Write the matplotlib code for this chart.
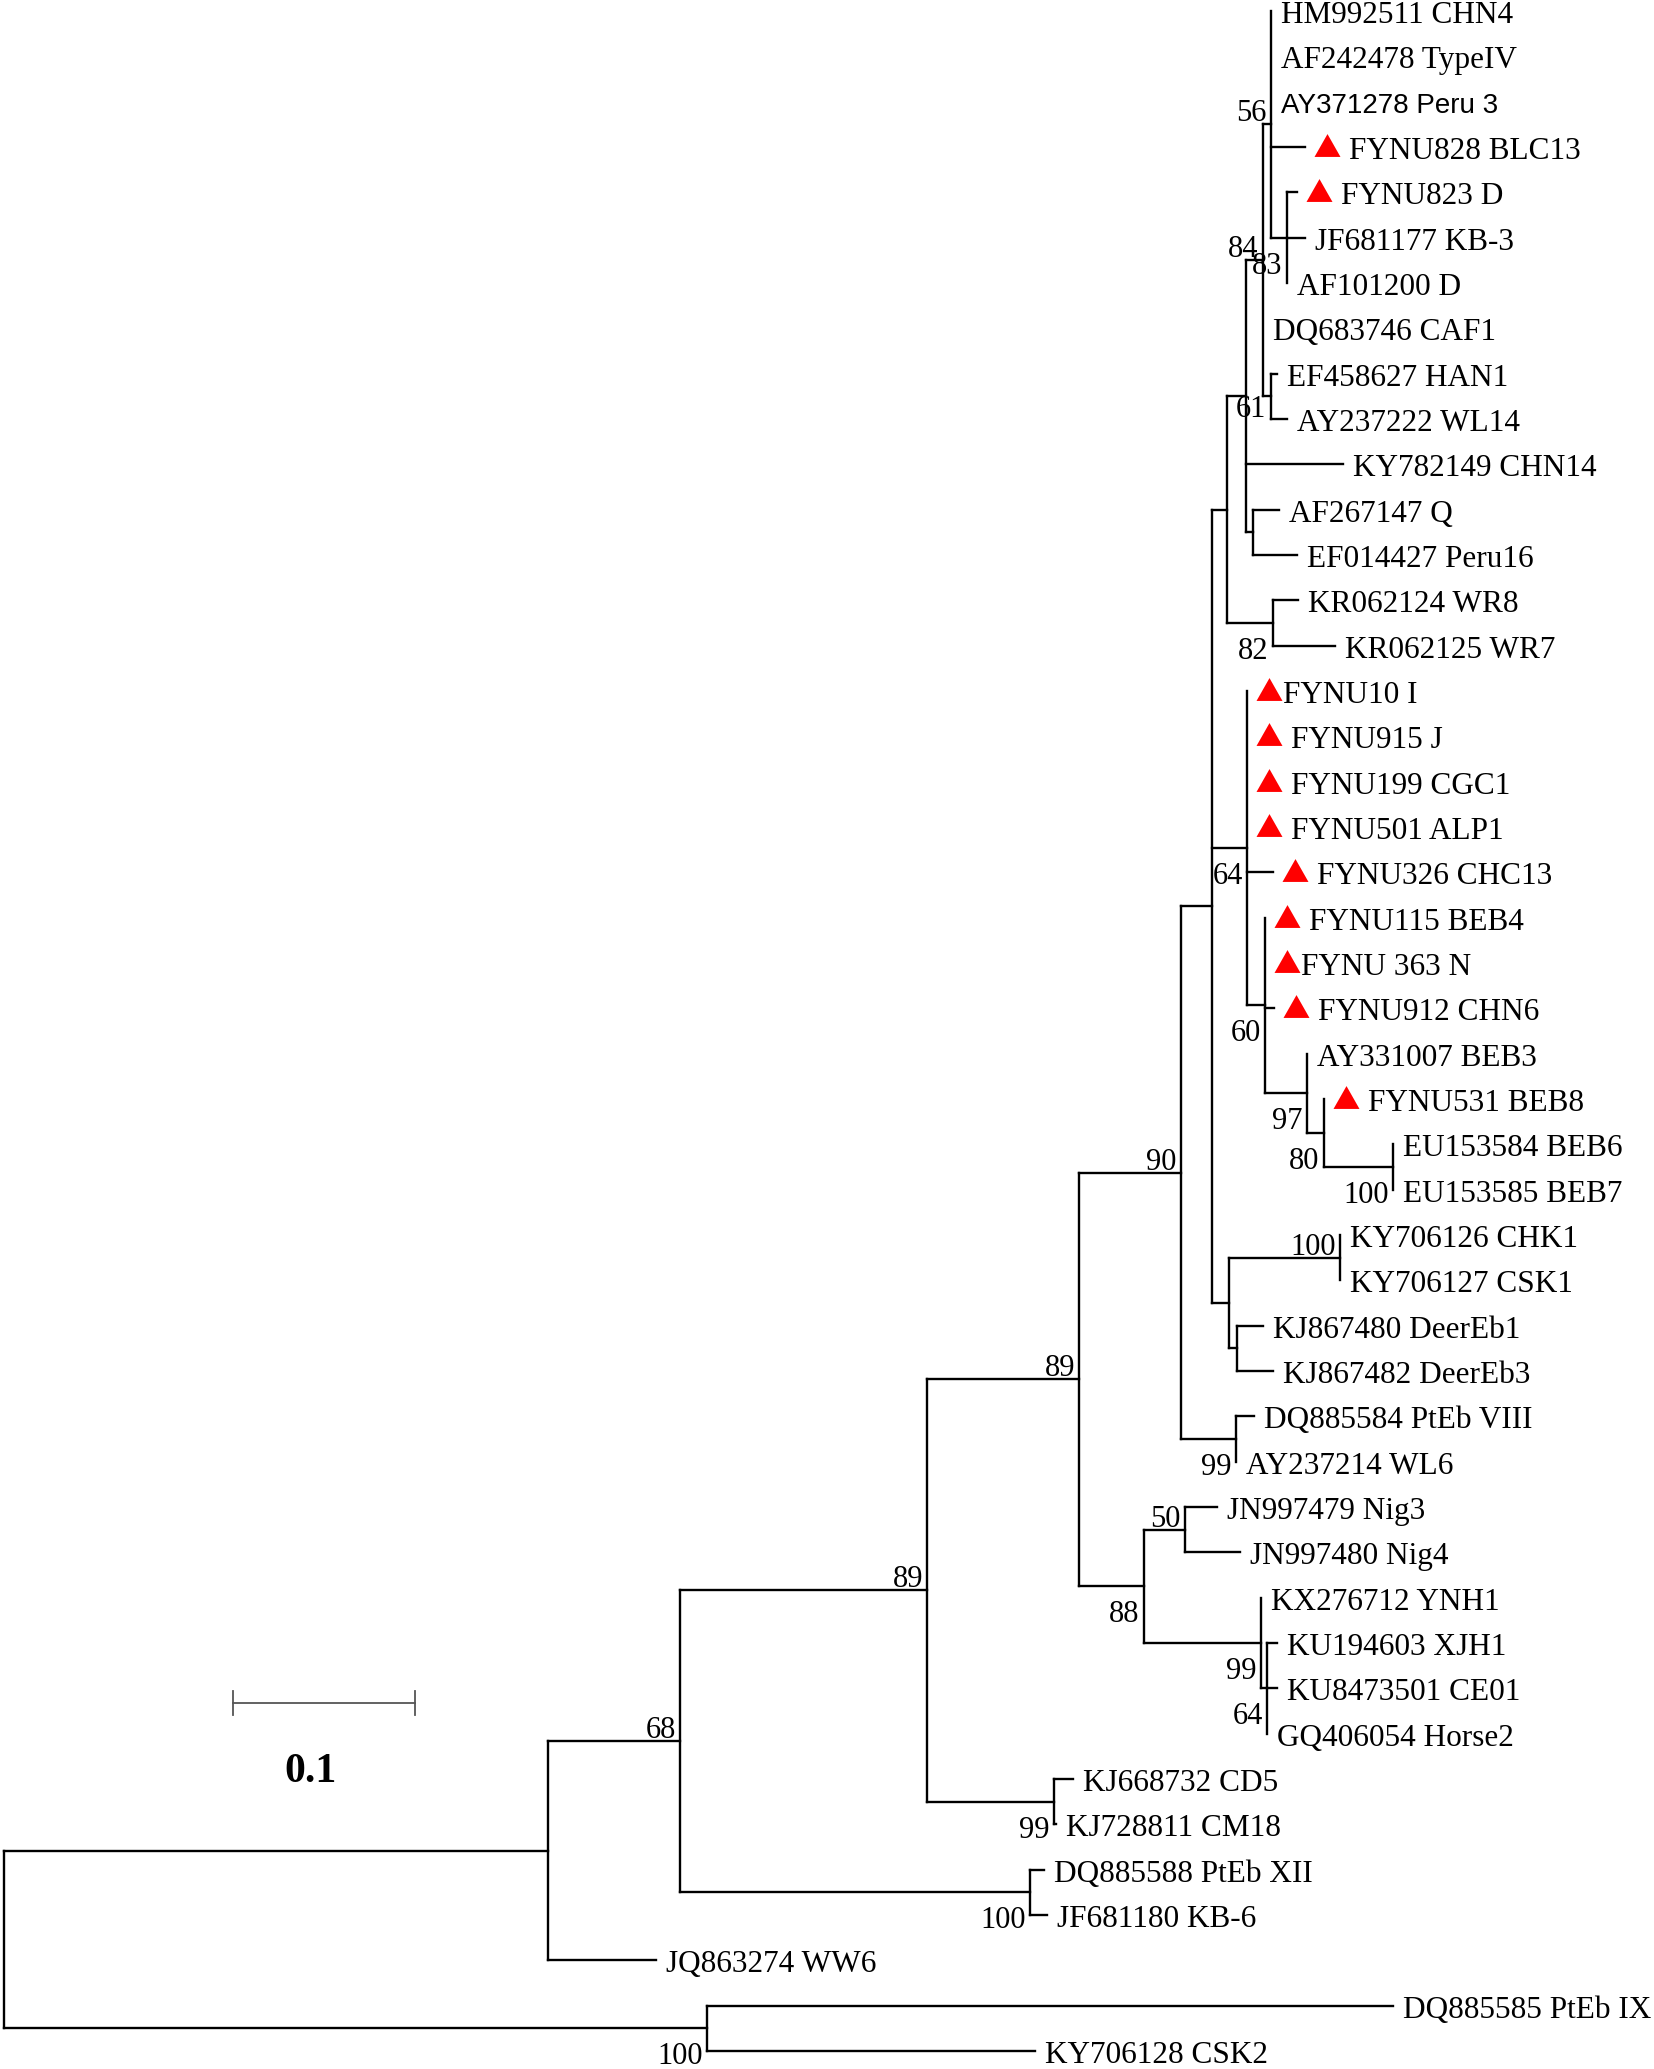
"""
系統樹 (MEGA 風) の再描画
"""

import matplotlib
matplotlib.use("Agg")
import matplotlib.pyplot as plt

# 内部ノード: 名前, 親ノード, 枝長, ブートストラップ値
node_names = ["root", "A", "C", "n68", "n89b", "n100c", "nCD5", "n89a", "n90",
              "n88", "n50", "n99b", "n64b", "n99", "nE", "nX", "n100b", "nDeer",
              "n64", "n60", "n97", "n80", "n100a", "nD", "n82", "nC2", "nQ",
              "n84", "n56", "n83", "n61"]
node_parents = [None, "root", "root", "A", "n68", "n68", "n89b", "n89b", "n89a",
                "n89a", "n88", "n88", "n99b", "n90", "n90", "nE", "nX", "nX",
                "nE", "n64", "n60", "n97", "n80", "nE", "nD", "nD", "nC2",
                "nC2", "n84", "n56", "n84"]
node_lengths = [0.0, 0.2989, 0.3863, 0.0725, 0.1357, 0.1923, 0.0698, 0.0835, 0.0560,
                0.0357, 0.0225, 0.0643, 0.0033, 0.0302, 0.0170, 0.0093, 0.0610, 0.0044,
                0.0192, 0.0099, 0.0231, 0.0093, 0.0379, 0.0082, 0.0253, 0.0104, 0.0038,
                0.0093, 0.0044, 0.0088, 0.0044]
node_support = ["", "", "100", "68", "89", "100", "99", "89", "90",
                "88", "50", "99", "64", "99", "", "", "100", "",
                "64", "60", "97", "80", "100", "", "82", "", "",
                "84", "56", "83", "61"]

# 末端 (上から順)
leaf_names = ["HM992511 CHN4", "AF242478 TypeIV", "AY371278 Peru 3", "FYNU828 BLC13",
              "FYNU823 D", "JF681177 KB-3", "AF101200 D", "DQ683746 CAF1",
              "EF458627 HAN1", "AY237222 WL14", "KY782149 CHN14", "AF267147 Q",
              "EF014427 Peru16", "KR062124 WR8", "KR062125 WR7", "FYNU10 I",
              "FYNU915 J", "FYNU199 CGC1", "FYNU501 ALP1", "FYNU326 CHC13",
              "FYNU115 BEB4", "FYNU 363 N", "FYNU912 CHN6", "AY331007 BEB3",
              "FYNU531 BEB8", "EU153584 BEB6", "EU153585 BEB7", "KY706126 CHK1",
              "KY706127 CSK1", "KJ867480 DeerEb1", "KJ867482 DeerEb3",
              "DQ885584 PtEb VIII", "AY237214 WL6", "JN997479 Nig3", "JN997480 Nig4",
              "KX276712 YNH1", "KU194603 XJH1", "KU8473501 CE01", "GQ406054 Horse2",
              "KJ668732 CD5", "KJ728811 CM18", "DQ885588 PtEb XII", "JF681180 KB-6",
              "JQ863274 WW6", "DQ885585 PtEb IX", "KY706128 CSK2"]
leaf_parents = ["n56", "n56", "n56", "n56",
                "n83", "n83", "n83", "n84",
                "n61", "n61", "nC2", "nQ",
                "nQ", "n82", "n82", "n64",
                "n64", "n64", "n64", "n64",
                "n60", "n60", "n60", "n97",
                "n80", "n100a", "n100a", "n100b",
                "n100b", "nDeer", "nDeer",
                "n99", "n99", "n50", "n50",
                "n99b", "n64b", "n64b", "n64b",
                "nCD5", "nCD5", "n100c", "n100c",
                "A", "C", "C"]
leaf_lengths = [0.0, 0.0, 0.0, 0.0187,
                0.0055, 0.0099, 0.0, 0.0,
                0.0038, 0.0088, 0.0533, 0.0148,
                0.0242, 0.0137, 0.0341, 0.0,
                0.0, 0.0, 0.0, 0.0143,
                0.0, 0.0, 0.0049, 0.0,
                0.0, 0.0, 0.0, 0.0,
                0.0, 0.0143, 0.0198,
                0.0099, 0.0, 0.0176, 0.0302,
                0.0, 0.0055, 0.0055, 0.0,
                0.0104, 0.0011, 0.0077, 0.0093,
                0.0593, 0.3769, 0.1802]
# 本研究の分離株 (赤三角)
leaf_marked = ["FYNU828 BLC13", "FYNU823 D", "FYNU10 I", "FYNU915 J", "FYNU199 CGC1",
               "FYNU501 ALP1", "FYNU326 CHC13", "FYNU115 BEB4", "FYNU 363 N",
               "FYNU912 CHN6", "FYNU531 BEB8"]

scale_value = 0.1

# ---- 描画設定 ----
PX_X = 1 / 1820   # 1ピクセルあたりの距離
PX_Y = 1 / 45.33  # 1ピクセルあたりの行数
LINE_W = 1.7
SERIF = "Liberation Serif"
SANS_LEAVES = {"AY371278 Peru 3"}
TIGHT_LEAVES = {"FYNU10 I", "FYNU 363 N"}   # 三角の直後に文字
# ブートストラップ値の縦位置 (ベースライン, px)
SUPPORT_BELOW = {"n83", "n82", "n64", "n60", "n97", "n80", "n100a", "n99",
                 "n88", "n99b", "n64b", "nCD5", "n100c", "C"}
SUPPORT_DY = {"n61": 21}

parent = dict(zip(node_names, node_parents))
parent.update(zip(leaf_names, leaf_parents))
length = dict(zip(node_names, node_lengths))
length.update(zip(leaf_names, leaf_lengths))
support = dict(zip(node_names, node_support))

children = {n: [] for n in node_names}
for n, p in parent.items():
    if p is not None:
        children[p].append(n)

depth = {}


def get_depth(n):
    if n not in depth:
        p = parent[n]
        depth[n] = 0.0 if p is None else get_depth(p) + length[n]
    return depth[n]


ypos = {name: i for i, name in enumerate(leaf_names)}


def get_y(n):
    if n not in ypos:
        ys = [get_y(c) for c in children[n]]
        ypos[n] = (min(ys) + max(ys)) / 2
    return ypos[n]


for n in parent:
    get_depth(n)
    get_y(n)

fig = plt.figure(figsize=(16.54, 20.69), dpi=100)
ax = fig.add_axes([0, 0, 1, 1])
ax.set_xlim(-4 * PX_X, 1650 * PX_X)
ax.set_ylim((2069 - 11) * PX_Y, -11 * PX_Y)
ax.axis("off")

# 枝
for n, p in parent.items():
    if p is None:
        continue
    if depth[n] > depth[p]:
        ax.plot([depth[p], depth[n]], [ypos[n], ypos[n]], color="black",
                lw=LINE_W, solid_capstyle="projecting")
for n in node_names:
    ys = [ypos[c] for c in children[n]]
    ax.plot([depth[n], depth[n]], [min(ys), max(ys)], color="black",
            lw=LINE_W, solid_capstyle="projecting")

# ブートストラップ値
for n in node_names:
    if not support[n]:
        continue
    dy = SUPPORT_DY.get(n, 36 if n in SUPPORT_BELOW else -3)
    ax.text(depth[n] - 4 * PX_X, ypos[n] + dy * PX_Y, support[n], ha="right",
            va="baseline", fontsize=22, family=SERIF)

# 末端ラベル
tri = [(-1, -0.88), (1, -0.88), (0, 0.88)]
for name in leaf_names:
    x, y = depth[name], ypos[name]
    if name in leaf_marked:
        ax.plot(x + 22 * PX_X, y - 2 * PX_Y, marker=tri, markersize=18.7,
                color="#ff0000", mec="none", linestyle="none")
        tx = x + (36 if name in TIGHT_LEAVES else 44) * PX_X
    else:
        tx = x + 10 * PX_X
    if name in SANS_LEAVES:
        ax.text(tx, y + 11 * PX_Y, name, ha="left", va="baseline",
                fontsize=20, family="Liberation Sans")
    else:
        ax.text(tx, y + 12 * PX_Y, name, ha="left", va="baseline",
                fontsize=22.5, family=SERIF)

# スケールバー
bar_x0 = 229 * PX_X
bar_y = (1703 - 11) * PX_Y
ax.plot([bar_x0, bar_x0 + scale_value], [bar_y, bar_y], color="#555555", lw=1.3)
for bx in (bar_x0, bar_x0 + scale_value):
    ax.plot([bx, bx], [bar_y - 12 * PX_Y, bar_y + 12 * PX_Y], color="#555555", lw=1.3)
ax.text(bar_x0 + 77 * PX_X, bar_y + 69 * PX_Y, f"{scale_value:g}", ha="center",
        va="center", fontsize=30, fontweight="bold", family=SERIF)

fig.savefig("out.png", dpi=100)
